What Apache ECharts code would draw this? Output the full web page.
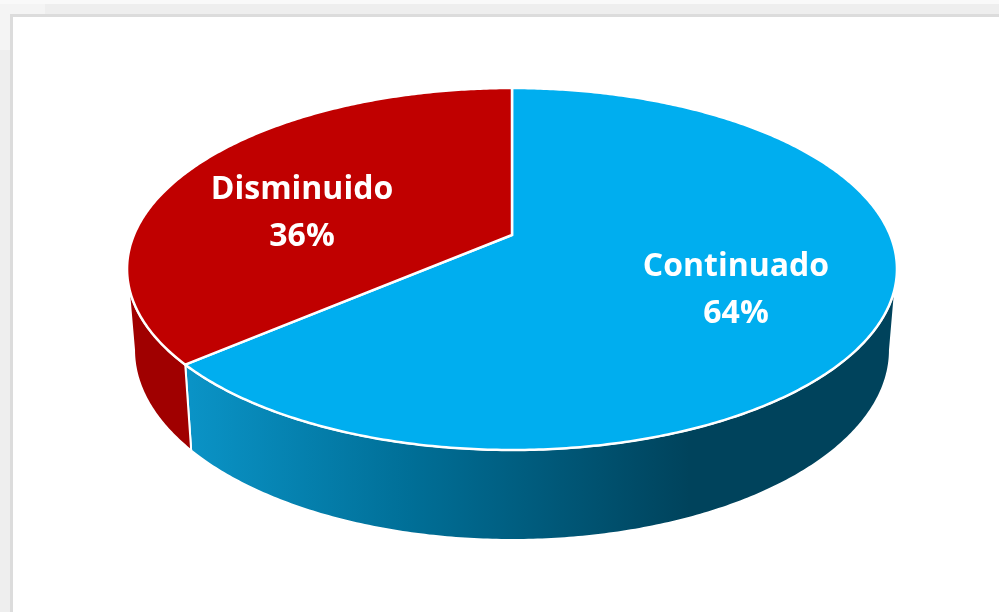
<!DOCTYPE html>
<html>
<head>
<meta charset="utf-8">
<title>Continuado / Disminuido</title>
<style>
  html, body { margin: 0; padding: 0; background: #fff; }
  #main { width: 999px; height: 612px; }
</style>
<script src="https://cdn.jsdelivr.net/npm/echarts@6/dist/echarts.min.js"></script>
</head>
<body>
<div id="main"></div>
<script>
// slices, clockwise from twelve o'clock
const categories = ['Continuado', 'Disminuido'];
const values = [63.7, 36.3];

const topColors = ['#00AEEF', '#C00000'];
const labelAt = [[736, 290], [302, 213]];

// tilted disc: apex of the pie, and a perspective factor so the far half is shorter
const apex = [512, 235];
const k = 0.1879;
const a = 378.1;
const b = 174.6;
// rim ellipses, the base one is what the top rim gets mapped onto
const topRim = { cx: 512, cy: 269, rx: 385, ry: 181 };
const baseRim = { cx: 512, cy: 350, rx: 378, ry: 190 };

const total = values.reduce(function (s, v) { return s + v; }, 0);

function sliceAngles(i) {
  let before = 0;
  for (let n = 0; n < i; n++) before += values[n];
  return [before / total * Math.PI * 2, (before + values[i]) / total * Math.PI * 2];
}

function rimPoint(t) {
  const u = Math.sin(t);
  const v = -Math.cos(t);
  const w = 1 - k * v;
  return [apex[0] + a * u / w, apex[1] + b * v / w];
}

function basePoint(p) {
  return [
    baseRim.cx + (p[0] - topRim.cx) * baseRim.rx / topRim.rx,
    baseRim.cy + (p[1] - topRim.cy) * baseRim.ry / topRim.ry
  ];
}

function arc(t0, t1) {
  const pts = [];
  const steps = Math.max(2, Math.ceil((t1 - t0) / 0.01));
  for (let s = 0; s <= steps; s++) {
    pts.push(rimPoint(t0 + (t1 - t0) * s / steps));
  }
  return pts;
}

// the wall only shows between the two widest points of the rim
const frontStart = Math.PI - Math.acos(k);
const frontEnd = Math.PI + Math.acos(k);

const wallFills = [
  new echarts.graphic.LinearGradient(190, 0, 690, 0, [
    { offset: 0, color: '#0A93C6' },
    { offset: 0.45, color: '#006E96' },
    { offset: 1, color: '#00435C' }
  ], true),
  '#A00000'
];

function renderWall(params, api) {
  const i = params.dataIndex;
  const ang = sliceAngles(i);
  const t0 = Math.max(ang[0], frontStart);
  const t1 = Math.min(ang[1], frontEnd);
  if (t1 <= t0) return null;
  const rim = arc(t0, t1);
  const base = rim.map(basePoint).reverse();
  return {
    type: 'polygon',
    shape: { points: rim.concat(base) },
    style: { fill: wallFills[i], stroke: '#fff', lineWidth: 2, lineJoin: 'round' }
  };
}

function renderTop(params, api) {
  const i = params.dataIndex;
  const ang = sliceAngles(i);
  return {
    type: 'group',
    children: [
      {
        type: 'polygon',
        shape: { points: [apex].concat(arc(ang[0], ang[1])) },
        style: { fill: topColors[i], stroke: '#fff', lineWidth: 2.5, lineJoin: 'miter' }
      },
      {
        type: 'text',
        z2: 10,
        style: {
          text: categories[i] + '\n' + Math.round(api.value(0) / total * 100) + '%',
          x: labelAt[i][0],
          y: labelAt[i][1],
          align: 'center',
          verticalAlign: 'middle',
          lineHeight: 47,
          fill: '#fff',
          fontFamily: 'Open Sans',
          fontWeight: 700,
          fontSize: 32
        }
      }
    ]
  };
}

const myChart = echarts.init(document.getElementById('main'), null, { renderer: 'canvas' });

const seriesData = values.map(function (v, i) {
  return { name: categories[i], value: v };
});

const option = {
  animation: false,
  backgroundColor: '#fff',
  graphic: [
    { type: 'rect', z: -5, silent: true, shape: { x: 0, y: 0, width: 999, height: 612 }, style: { fill: '#EEEEEE' } },
    { type: 'rect', z: -5, silent: true, shape: { x: 0, y: 0, width: 999, height: 4 }, style: { fill: '#F9F9F9' } },
    { type: 'rect', z: -5, silent: true, shape: { x: 0, y: 4, width: 45, height: 46 }, style: { fill: '#F4F4F4' } },
    { type: 'rect', z: -4, silent: true, shape: { x: 10, y: 14, width: 989, height: 598 }, style: { fill: '#DCDCDC' } },
    { type: 'rect', z: -3, silent: true, shape: { x: 13, y: 17, width: 986, height: 595 }, style: { fill: '#FFFFFF' } }
  ],
  series: [
    { type: 'custom', coordinateSystem: 'none', z: 2, silent: true, renderItem: renderWall, data: seriesData },
    { type: 'custom', coordinateSystem: 'none', z: 3, silent: true, renderItem: renderTop, data: seriesData }
  ]
};

myChart.setOption(option);
</script>
</body>
</html>
